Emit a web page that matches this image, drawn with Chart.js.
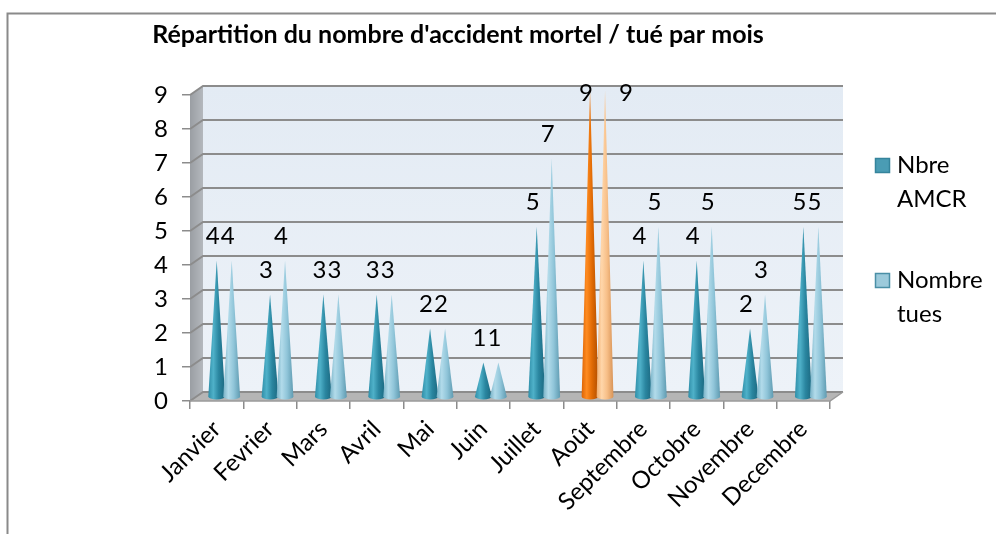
<!DOCTYPE html>
<html><head><meta charset="utf-8">
<script src="https://cdn.jsdelivr.net/npm/chart.js@4.4.1/dist/chart.umd.min.js"></script>
<style>html,body{margin:0;padding:0;background:#fff;}#wrap{width:996px;height:534px;position:relative}</style>
</head><body><div id="wrap"><canvas id="c" width="996" height="534"></canvas></div>
<script>
// ---- data ----
const categories = ['Janvier','Fevrier','Mars','Avril','Mai','Juin','Juillet','Août','Septembre','Octobre','Novembre','Decembre'];
const nbreAMCR   = [4,3,3,3,2,1,5,9,4,4,2,5];
const nombreTues = [4,4,3,3,2,1,7,9,5,5,3,5];
const yTickValues = [0,1,2,3,4,5,6,7,8,9];
const seriesLabels = ['Nbre AMCR','Nombre tues'];
const titleText = "Répartition du nombre d'accident mortel / tué par mois";
const highlightIndex = 7; // Août drawn in orange

// ---- style ----
const DX = 13, DY = 9;
const FONT = 'Lato';
const palette = [
  {normal:['#2f8ea8','#4fb1c9','#2a86a0','#1b6880'], hi:['#dc6405','#ff8b20','#e06a04','#b04e00'], legend:'#4a9cb4', border:'#35849c'},
  {normal:['#78b2c7','#b2dbea','#90c5d9','#5f9bb1'], hi:['#f0ad6e','#ffd6aa','#f7bf88','#d89356'], legend:'#9ccadb', border:'#4a8fa6'}
];

const scene3d = {
  id:'scene3d',
  beforeDraw(chart){
    const ctx = chart.ctx;
    ctx.save();
    ctx.fillStyle = '#fff';
    ctx.fillRect(0,0,chart.width,chart.height);
    ctx.strokeStyle = '#8a8a8a'; ctx.lineWidth = 2;
    ctx.beginPath(); ctx.moveTo(7.5,534); ctx.lineTo(7.5,13.5); ctx.lineTo(996,13.5); ctx.stroke();
    ctx.restore();
  },
  beforeDatasetsDraw(chart){
    const {ctx, chartArea:a} = chart; const y = chart.scales.y;
    const yTop = y.getPixelForValue(yTickValues[yTickValues.length-1]);
    const y0 = y.getPixelForValue(0);
    ctx.save();
    // back wall
    let g = ctx.createLinearGradient(0,yTop-DY,0,y0-DY);
    g.addColorStop(0,'#e3ebf4'); g.addColorStop(1,'#edf2f8');
    ctx.fillStyle = g;
    ctx.fillRect(a.left+DX, yTop-DY, a.right-a.left, y0-yTop);
    // side wall
    g = ctx.createLinearGradient(a.left,0,a.left+DX,0);
    g.addColorStop(0,'#9a9ea3'); g.addColorStop(1,'#b4b8bd');
    ctx.fillStyle = g;
    ctx.beginPath(); ctx.moveTo(a.left,yTop); ctx.lineTo(a.left+DX,yTop-DY); ctx.lineTo(a.left+DX,y0-DY); ctx.lineTo(a.left,y0); ctx.closePath(); ctx.fill();
    // floor
    ctx.fillStyle = '#b5b5b5';
    ctx.beginPath(); ctx.moveTo(a.left,y0); ctx.lineTo(a.right,y0); ctx.lineTo(a.right+DX,y0-DY); ctx.lineTo(a.left+DX,y0-DY); ctx.closePath(); ctx.fill();
    // grid lines
    ctx.strokeStyle = '#8c8c8c'; ctx.lineWidth = 2;
    yTickValues.forEach(v=>{
      const yy = y.getPixelForValue(v);
      ctx.beginPath(); ctx.moveTo(a.left,yy); ctx.lineTo(a.left+DX,yy-DY); ctx.lineTo(a.right+DX,yy-DY); ctx.stroke();
    });
    ctx.strokeStyle = '#9a9a9a'; ctx.lineWidth = 1.5;
    ctx.beginPath(); ctx.moveTo(a.left,y0); ctx.lineTo(a.right,y0); ctx.lineTo(a.right+DX,y0-DY); ctx.stroke();
    ctx.restore();
  },
  afterDatasetsDraw(chart){
    const ctx = chart.ctx; const y = chart.scales.y;
    const y0 = y.getPixelForValue(0);
    const labels = [];
    ctx.save();
    chart.data.datasets.forEach((ds,di)=>{
      const meta = chart.getDatasetMeta(di);
      meta.data.forEach((bar,i)=>{
        const p = bar.getProps(['x','y','width'], true);
        const cx = p.x + DX*0.58, tipY = p.y - DY*0.5, baseY = y0 - DY*0.5;
        const hw = p.width*0.56, ry = 3;
        const cols = i===highlightIndex ? palette[di].hi : palette[di].normal;
        const g = ctx.createLinearGradient(cx-hw,0,cx+hw,0);
        g.addColorStop(0,cols[0]); g.addColorStop(0.3,cols[1]); g.addColorStop(0.62,cols[2]); g.addColorStop(1,cols[3]);
        ctx.fillStyle = g;
        ctx.beginPath();
        ctx.moveTo(cx-hw,baseY); ctx.lineTo(cx,tipY); ctx.lineTo(cx+hw,baseY);
        ctx.ellipse(cx,baseY,hw,ry,0,0,Math.PI,false);
        ctx.closePath(); ctx.fill();
        const clamped = tipY - 24 < 93;
        labels.push({x: (clamped && di>0) ? cx+21 : cx-4, y: clamped ? 93 : tipY-24, t:String(ds.data[i])});
      });
    });
    ctx.fillStyle = '#000'; ctx.font = '24px '+FONT; ctx.textAlign='center'; ctx.textBaseline='middle';
    labels.forEach(l=>ctx.fillText(l.t,l.x,l.y));
    ctx.restore();
  },
  afterDraw(chart){
    const ctx = chart.ctx;
    ctx.save();
    const tops = [158, 273];
    chart.data.datasets.forEach((ds,di)=>{
      const t = tops[di];
      ctx.fillStyle = palette[di].legend; ctx.fillRect(875,t,15,15);
      ctx.strokeStyle = palette[di].border; ctx.lineWidth = 1.5; ctx.strokeRect(875.5,t+0.5,14,14);
      ctx.fillStyle = '#000'; ctx.font = '24px '+FONT; ctx.textAlign='left'; ctx.textBaseline='middle';
      ds.label.split(' ').forEach((w,k)=>ctx.fillText(w,897,t+7+k*34));
    });
    ctx.restore();
  }
};

new Chart(document.getElementById('c'), {
  type:'bar',
  data:{
    labels: categories,
    datasets:[
      {label:seriesLabels[0], data:nbreAMCR, yAxisID:'y', backgroundColor:'rgba(0,0,0,0)', borderWidth:0},
      {label:seriesLabels[1], data:nombreTues, yAxisID:'y', backgroundColor:'rgba(0,0,0,0)', borderWidth:0}
    ]
  },
  options:{
    responsive:false, animation:false, devicePixelRatio:1,
    categoryPercentage:0.5625, barPercentage:1,
    layout:{padding:{left:0,right:80,top:20,bottom:0}},
    plugins:{
      legend:{display:false}, tooltip:{enabled:false},
      title:{display:true, text:titleText, color:'#000', font:{family:FONT,size:25,weight:'bold'}, padding:{top:0,bottom:45}}
    },
    scales:{
      x:{
        grid:{offset:true, drawOnChartArea:false, tickLength:8, color:'#8c8c8c', lineWidth:1.5},
        border:{display:false},
        ticks:{color:'#000', font:{family:FONT,size:24}, maxRotation:45, minRotation:45, autoSkip:false, padding:6},
        afterFit(s){ s.height = 133; }
      },
      y:{
        min:0, max:9,
        afterBuildTicks(s){ s.ticks = yTickValues.map(v=>({value:v})); },
        grid:{drawOnChartArea:false, tickLength:8, color:'#8c8c8c', lineWidth:1.5},
        border:{display:false},
        ticks:{color:'#000', font:{family:FONT,size:24}, padding:14},
        afterFit(s){ s.width = 190; }
      },
      yR:{
        position:'right', display:true,
        grid:{display:false}, border:{display:false}, ticks:{display:false},
        afterFit(s){ s.width = 86; }
      }
    }
  },
  plugins:[scene3d]
});
</script></body></html>
